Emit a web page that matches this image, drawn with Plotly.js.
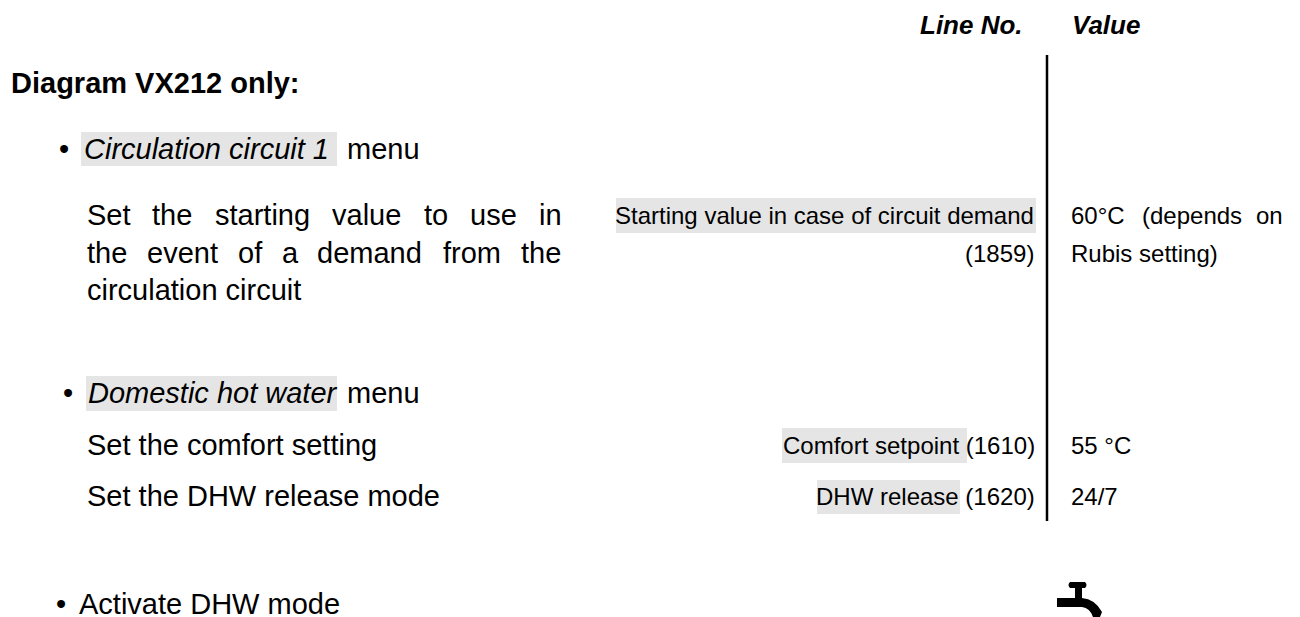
<!DOCTYPE html>
<html><head><meta charset="utf-8">
<script src="https://cdn.plot.ly/plotly-3.0.1.min.js"></script>
<style>html,body{margin:0;padding:0;background:#fff}#c{width:1300px;height:617px}</style></head>
<body><div id="c"></div>
<script>
const SANS='Liberation Sans, Arial, sans-serif';
const leftText=['<b>Diagram VX212 only:</b>','•','<i>Circulation circuit 1</i>','menu',
 'Set','the','starting','value','to','use','in',
 'the','event','of','a','demand','from','the',
 'circulation circuit','•','<i>Domestic hot water</i>','menu',
 'Set the comfort setting','Set the DHW release mode','•','Activate DHW mode'];
const leftX=[10,58,83,346, 86,151,214,331,423,469,538, 86,146,237,281,316,442,520, 86,62,87,346, 86,86,55,78];
const leftY=[83,149,149,149, 215,215,215,215,215,215,215, 253,253,253,253,253,253,253, 290,393,393,393, 445,496,604,604];
const midText=['Starting value in case of circuit demand','(1859)','Comfort setpoint (1610)','DHW release (1620)'];
const midX=[1035,1035,1036,1036];
const midY=[215,253,445,496];
const valText=['60°C','(depends','on','Rubis setting)','55 °C','24/7'];
const valX=[1070,1141,1255,1070,1070,1070];
const valY=[215,215,215,253,445,496];
const headText=['<b><i>Line No.</i></b>','<b><i>Value</i></b>'];
const headX=[1024,1071];
const headAnchor=['right','left'];
const headY=[25,25];
const highlightX0=[81,616,86,782,817];
const highlightX1=[337,1036,337,967,960];
const highlightY0=[132,198,376,428,480];
const highlightY1=[166,233,411,463,514];
const ruleX=[1047,1047];
const ruleY=[55,521];
const shapes=highlightX0.map((x,i)=>({type:'rect',xref:'x',yref:'y',layer:'below',x0:x,x1:highlightX1[i],y0:highlightY0[i],y1:highlightY1[i],fillcolor:'#e5e5e5',line:{width:0}}));
shapes.push(
 {type:'path',xref:'x',yref:'y',path:'M1070,582 L1085,582 Q1088,585 1085,588 L1070,588 Q1067,585 1070,582 Z',fillcolor:'#000',line:{width:0}},
 {type:'rect',xref:'x',yref:'y',x0:1075,x1:1082,y0:588,y1:598,fillcolor:'#000',line:{width:0}},
 {type:'path',xref:'x',yref:'y',path:'M1057,598 L1082,598 Q1095,599 1102,612 L1100,617 L1093,617 Q1090,608 1082,607 L1057,607 Z',fillcolor:'#000',line:{width:0}}
);
const ann=(t,x,y,a,s)=>t.map((v,i)=>({text:v,x:x[i],y:y[i],xref:'x',yref:'y',xanchor:Array.isArray(a)?a[i]:a,yanchor:'middle',showarrow:false,borderpad:0,font:{family:SANS,size:s,color:'#000'}}));
const annotations=[
 ...ann(leftText,leftX,leftY,'left',29),
 ...ann(midText,midX,midY,'right',24),
 ...ann(valText,valX,valY,'left',24),
 ...ann(headText,headX,headY,headAnchor,26)
];
Plotly.newPlot('c',[{x:ruleX,y:ruleY,mode:'lines',line:{color:'#000',width:2.5},hoverinfo:'skip',showlegend:false}],{
 width:1300,height:617,margin:{l:0,r:0,t:0,b:0},paper_bgcolor:'#fff',plot_bgcolor:'#fff',showlegend:false,
 xaxis:{range:[0,1300],visible:false,fixedrange:true},
 yaxis:{range:[617,0],visible:false,fixedrange:true},
 shapes,annotations
},{displayModeBar:false,staticPlot:true});
</script></body></html>
